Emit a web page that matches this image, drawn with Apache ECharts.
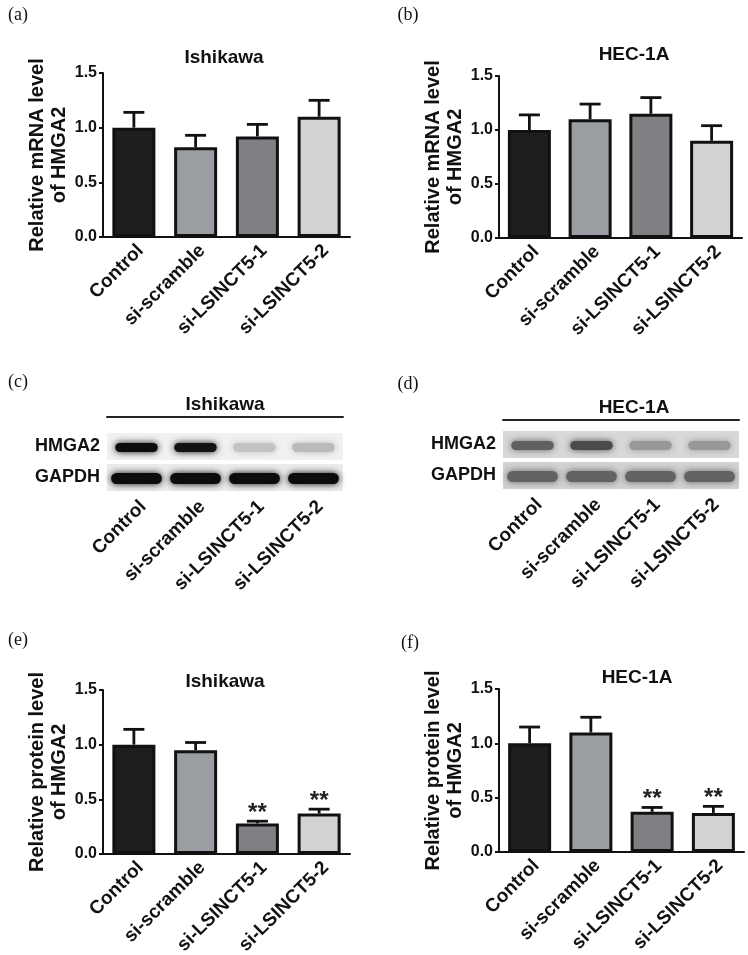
<!DOCTYPE html>
<html>
<head>
<meta charset="utf-8">
<script src="https://cdn.jsdelivr.net/npm/echarts@6/dist/echarts.min.js"></script>
<style>
html, body { margin: 0; padding: 0; background: #fff; }
#chart { width: 748px; height: 955px; }
</style>
</head>
<body>
<div id="chart"></div>
<script>
// groups on the x axis
const categories = ['Control', 'si-scramble', 'si-LSINCT5-1', 'si-LSINCT5-2']
// y ticks of the bar panels
const yTicks = [0, 0.5, 1.0, 1.5]

// (a) / (b) qPCR
const mrnaIshikawa = [1.0, 0.82, 0.92, 1.10]
const mrnaIshikawaErr = [0.14, 0.11, 0.11, 0.15]
const mrnaHec = [1.0, 1.10, 1.15, 0.90]
const mrnaHecErr = [0.14, 0.14, 0.15, 0.14]

// (e) / (f) western blot quantification
const proteinIshikawa = [1.0, 0.95, 0.28, 0.37]
const proteinIshikawaErr = [0.14, 0.07, 0.02, 0.04]
const proteinHec = [1.0, 1.10, 0.37, 0.36]
const proteinHecErr = [0.15, 0.14, 0.04, 0.06]
const mrnaSig = ['', '', '', '']
const proteinSig = ['', '', '**', '**']

// (c) / (d) blots: rows bottom -> top, band darkness per lane
const blotRows = ['GAPDH', 'HMGA2']
const blotIshikawaHMGA2 = [1.0, 0.97, 0.2, 0.24]
const blotIshikawaGAPDH = [1.0, 1.0, 1.0, 1.0]
const blotHecHMGA2 = [0.75, 0.88, 0.4, 0.4]
const blotHecGAPDH = [0.72, 0.72, 0.72, 0.72]

const barColors = ['#1f1d1e', '#9a9da2', '#7e8083', '#d1d2d4']
const FONT = 'Liberation Sans, Arial, sans-serif'
const SERIF = 'Liberation Serif, Times New Roman, serif'

const grids = []
const xAxes = []
const yAxes = []
const series = []
const titles = []

function mix(a, b, t) {
  const pa = [1, 3, 5].map((i) => parseInt(a.substr(i, 2), 16))
  const pb = [1, 3, 5].map((i) => parseInt(b.substr(i, 2), 16))
  return 'rgb(' + pa.map((v, i) => Math.round(v + (pb[i] - v) * t)).join(',') + ')'
}

function addTitle(text, x, y, size, family, weight) {
  titles.push({
    text,
    left: x,
    top: y,
    padding: 0,
    textAlign: 'center',
    textVerticalAlign: 'middle',
    textStyle: { fontFamily: family, fontSize: size, fontWeight: weight, color: '#111' }
  })
}

// rotated group names under bars and blots
const laneLabel = {
  interval: 0,
  rotate: 45,
  margin: 4,
  verticalAlign: 'top',
  color: '#111',
  fontFamily: FONT,
  fontSize: 19,
  fontWeight: 'bold'
}

function barPanel(rect, values, errs, sig, title, titlePos, yName) {
  const g = grids.length
  const xi = xAxes.length
  const yi = yAxes.length
  grids.push(Object.assign({ containLabel: false, outerBoundsMode: 'none' }, rect))
  xAxes.push({
    type: 'category',
    gridIndex: g,
    data: categories,
    axisLine: { lineStyle: { color: '#111', width: 2 } },
    axisTick: { alignWithLabel: true, length: 5, lineStyle: { color: '#111', width: 2 } },
    axisLabel: laneLabel
  })
  yAxes.push({
    type: 'value',
    gridIndex: g,
    min: yTicks[0],
    max: yTicks[yTicks.length - 1],
    interval: yTicks[1] - yTicks[0],
    name: yName,
    nameLocation: 'middle',
    nameRotate: 90,
    nameGap: 30,
    nameTextStyle: { fontFamily: FONT, fontSize: 20, fontWeight: 'bold', color: '#111', lineHeight: 22 },
    axisLine: { show: true, lineStyle: { color: '#111', width: 2 } },
    axisTick: { show: true, length: 4, lineStyle: { color: '#111', width: 2 } },
    splitLine: { show: false },
    axisLabel: {
      margin: 6,
      color: '#111',
      fontFamily: FONT,
      fontSize: 16,
      fontWeight: 'bold',
      formatter: (v) => v.toFixed(1)
    }
  })
  series.push({
    type: 'bar',
    xAxisIndex: xi,
    yAxisIndex: yi,
    barWidth: 43,
    data: values.map((v, i) => ({ value: v, itemStyle: { color: barColors[i] } })),
    itemStyle: { borderColor: '#111', borderWidth: 3 },
    silent: true
  })
  // error bars (upper only) + significance stars
  series.push({
    type: 'custom',
    xAxisIndex: xi,
    yAxisIndex: yi,
    z: 5,
    silent: true,
    data: values.map((v, i) => [i, v, errs[i]]),
    renderItem(params, api) {
      const i = api.value(0)
      const base = api.coord([i, api.value(1)])
      const top = api.coord([i, api.value(1) + api.value(2)])
      const st = { stroke: '#111', lineWidth: 2.8 }
      const children = [
        { type: 'line', shape: { x1: base[0], y1: base[1], x2: top[0], y2: top[1] }, style: st },
        { type: 'line', shape: { x1: top[0] - 10.5, y1: top[1], x2: top[0] + 10.5, y2: top[1] }, style: st }
      ]
      const s = sig[params.dataIndex]
      if (s) {
        children.push({
          type: 'text',
          style: {
            text: s,
            x: top[0],
            y: top[1] - 8,
            textAlign: 'center',
            textVerticalAlign: 'middle',
            font: 'bold 24px ' + FONT,
            fill: '#222'
          }
        })
      }
      return { type: 'group', children }
    }
  })
  addTitle(title, titlePos[0], titlePos[1], 19, FONT, 'bold')
}

function blotPanel(rect, lineOffset, hmga, gapdh, colors, title, titlePos) {
  const g = grids.length
  grids.push(Object.assign({ containLabel: false, outerBoundsMode: 'none' }, rect))
  const xi = xAxes.length
  xAxes.push({
    type: 'category',
    gridIndex: g,
    data: categories,
    axisLine: { show: false },
    axisTick: { show: false },
    axisLabel: laneLabel
  })
  // rule under the cell line name
  xAxes.push({
    type: 'category',
    gridIndex: g,
    position: 'top',
    offset: lineOffset,
    data: categories,
    axisLine: { show: true, lineStyle: { color: '#222', width: 2 } },
    axisTick: { show: false },
    axisLabel: { show: false }
  })
  const yi = yAxes.length
  yAxes.push({
    type: 'category',
    gridIndex: g,
    data: blotRows,
    axisLine: { show: false },
    axisTick: { show: false },
    axisLabel: { margin: 7, color: '#111', fontFamily: FONT, fontSize: 18, fontWeight: 'bold' }
  })
  // membrane strips
  series.push({
    type: 'custom',
    xAxisIndex: xi,
    yAxisIndex: yi,
    silent: true,
    z: 1,
    data: blotRows.map((r, k) => [0, k]),
    renderItem(params, api) {
      const c = api.coord([0, api.value(1)])
      const h = api.size([1, 1])[1]
      const cs = params.coordSys
      return {
        type: 'rect',
        shape: { x: cs.x, y: c[1] - h / 2 + 2, width: cs.width, height: h - 4 },
        style: { fill: colors.bg[api.value(1)] }
      }
    }
  })
  // bands
  const bandData = []
  gapdh.forEach((t, i) => bandData.push([i, 0, t]))
  hmga.forEach((t, i) => bandData.push([i, 1, t]))
  series.push({
    type: 'custom',
    xAxisIndex: xi,
    yAxisIndex: yi,
    silent: true,
    z: 2,
    data: bandData,
    renderItem(params, api) {
      const row = api.value(1)
      const c = api.coord([api.value(0), row])
      const s = api.size([1, 1])
      const w = s[0] * (row === 0 ? 0.86 : 0.72)
      const h = row === 0 ? 11 : 9
      const fill = mix(colors.bg[row], colors.dark, api.value(2))
      return {
        type: 'rect',
        shape: { x: c[0] - w / 2, y: c[1] - h / 2 + 1, width: w, height: h, r: h / 2 },
        style: { fill, shadowBlur: 7, shadowColor: fill }
      }
    }
  })
  addTitle(title, titlePos[0], titlePos[1], 19, FONT, 'bold')
}

barPanel({ left: 103, top: 73, width: 247, height: 164 }, mrnaIshikawa, mrnaIshikawaErr, mrnaSig,
  'Ishikawa', [224, 58], 'Relative mRNA level\nof HMGA2')
barPanel({ left: 499, top: 76, width: 243, height: 162 }, mrnaHec, mrnaHecErr, mrnaSig,
  'HEC-1A', [634, 55], 'Relative mRNA level\nof HMGA2')
blotPanel({ left: 107, top: 431, width: 236, height: 62 }, 14, blotIshikawaHMGA2, blotIshikawaGAPDH,
  { bg: ['#ececec', '#f1f1f1'], dark: '#0c0c0c' }, 'Ishikawa', [225, 405])
blotPanel({ left: 503, top: 429, width: 236, height: 62 }, 9, blotHecHMGA2, blotHecGAPDH,
  { bg: ['#d2d2d2', '#d8d8d8'], dark: '#383838' }, 'HEC-1A', [634, 408])
barPanel({ left: 103, top: 690, width: 247, height: 164 }, proteinIshikawa, proteinIshikawaErr, proteinSig,
  'Ishikawa', [225, 682], 'Relative protein level\nof HMGA2')
barPanel({ left: 499, top: 689, width: 245, height: 163 }, proteinHec, proteinHecErr, proteinSig,
  'HEC-1A', [637, 678], 'Relative protein level\nof HMGA2')

// panel letters
addTitle('(a)', 18, 15, 18, SERIF, 'normal')
addTitle('(b)', 408, 15, 18, SERIF, 'normal')
addTitle('(c)', 18, 382, 18, SERIF, 'normal')
addTitle('(d)', 408, 384, 18, SERIF, 'normal')
addTitle('(e)', 18, 640, 18, SERIF, 'normal')
addTitle('(f)', 410, 643, 18, SERIF, 'normal')

const chart = echarts.init(document.getElementById('chart'))
chart.setOption({
  backgroundColor: '#fff',
  animation: false,
  title: titles,
  grid: grids,
  xAxis: xAxes,
  yAxis: yAxes,
  series
})
</script>
</body>
</html>
